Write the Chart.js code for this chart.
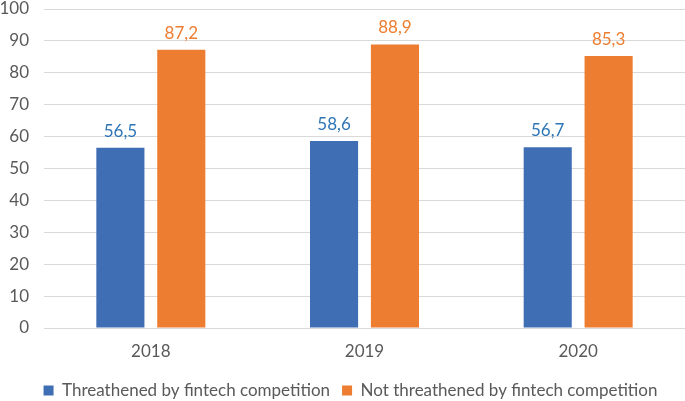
<!DOCTYPE html>
<html>
<head>
<meta charset="utf-8">
<script src="https://cdn.jsdelivr.net/npm/chart.js@4/dist/chart.umd.min.js"></script>
<style>
    body { margin: 0; background: #fff; }
</style>
</head>
<body>
<canvas id="chart" width="685" height="401"></canvas>
<script>
const years = ['2018', '2019', '2020']
const threatened = [56.5, 58.6, 56.7]
const notThreatened = [87.2, 88.9, 85.3]
const yTicks = [0, 10, 20, 30, 40, 50, 60, 70, 80, 90, 100]

const fontFamily = 'Lato, "Open Sans", sans-serif'

// draws the value above each bar, decimal comma like the original
const valueLabels = {
    id: 'valueLabels',
    afterDatasetsDraw(chart) {
        let ctx = chart.ctx
        ctx.save()
        ctx.font = '17px ' + fontFamily
        ctx.textAlign = 'center'
        ctx.textBaseline = 'bottom'
        chart.data.datasets.forEach((ds, i) => {
            chart.getDatasetMeta(i).data.forEach((bar, j) => {
                ctx.fillStyle = ds.labelColor
                ctx.fillText(ds.data[j].toFixed(1).replace('.', ','), bar.x, bar.y - 8)
            })
        })
        ctx.restore()
    },
}

// legend sits a bit lower and further right than chart.js would put it
const legendShift = {
    id: 'legendShift',
    beforeLayout(chart) {
        let legend = chart.legend
        if (legend && !legend._patched) {
            let fit = legend.fit
            legend.fit = function () {
                fit.call(this)
                this.height -= 8
            }
            legend._patched = true
        }
    },
    afterLayout(chart) {
        if (chart.legend) {
            chart.legend.left += 16
        }
    },
}

new Chart(document.getElementById('chart'), {
    type: 'bar',
    data: {
        labels: years,
        datasets: [
            {
                label: 'Threathened by fintech competition',
                data: threatened,
                backgroundColor: '#3F6EB5',
                labelColor: '#2E75B6',
                categoryPercentage: 0.57,
                barPercentage: 0.79,
            },
            {
                label: 'Not threathened by fintech competition',
                data: notThreatened,
                backgroundColor: '#ED7D31',
                labelColor: '#ED7D31',
                categoryPercentage: 0.57,
                barPercentage: 0.79,
            },
        ],
    },
    options: {
        responsive: false,
        animation: false,
        layout: { padding: 0 },
        plugins: {
            legend: {
                position: 'bottom',
                labels: {
                    boxWidth: 10,
                    boxHeight: 10,
                    padding: 12,
                    color: '#595959',
                    font: { family: fontFamily, size: 17 },
                },
            },
            tooltip: { enabled: false },
        },
        scales: {
            x: {
                grid: { display: false, drawTicks: false },
                border: { display: false },
                ticks: {
                    color: '#595959',
                    padding: 13,
                    font: { family: fontFamily, size: 17 },
                },
                afterFit(axis) {
                    axis.height = 42
                },
            },
            y: {
                min: 0,
                max: 100,
                afterBuildTicks(axis) {
                    axis.ticks = yTicks.map((v) => ({ value: v }))
                },
                afterFit(axis) {
                    axis.width = 44
                    axis.paddingTop = 9
                },
                grid: { color: '#D9D9D9', drawTicks: false },
                border: { display: false },
                ticks: {
                    color: '#595959',
                    padding: 15,
                    font: { family: fontFamily, size: 17 },
                },
            },
        },
    },
    plugins: [valueLabels, legendShift],
})
</script>
</body>
</html>
